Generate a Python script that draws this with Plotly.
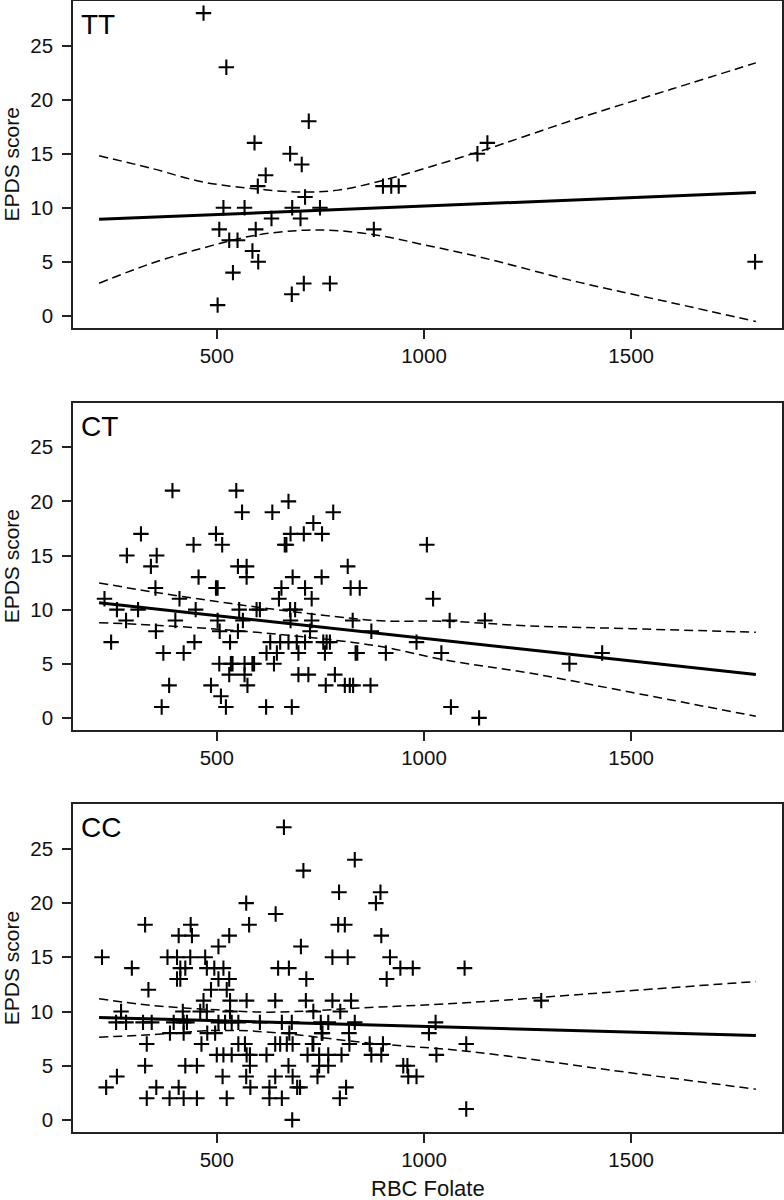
import plotly.graph_objects as go

# ---------------- data ----------------
panel_labels = ["TT", "CT", "CC"]

tt_x = [468, 523, 722, 591, 677, 705, 618, 599, 713, 516, 567, 682, 749, 632, 702,
        506, 594, 879, 530, 550, 586, 600, 539, 710, 773, 681, 502, 901, 921, 939,
        1129, 1153, 1799]
tt_y = [28, 23, 18, 16, 15, 14, 13, 12, 11, 10, 10, 10, 10, 9, 9,
        8, 8, 8, 7, 7, 6, 5, 4, 3, 3, 2, 1, 12, 12, 12,
        15, 16, 5]

ct_rows = {
    21: [393, 547],
    20: [673],
    19: [561, 634, 781],
    18: [733],
    17: [317, 498, 678, 710, 754],
    16: [444, 513, 664, 668, 1007],
    15: [283, 355],
    14: [341, 551, 572, 816],
    13: [456, 572, 683, 753],
    12: [352, 498, 502, 656, 713, 823, 845],
    11: [229, 410, 650, 729, 1022],
    10: [259, 310, 449, 554, 596, 604, 677, 689],
    9: [281, 400, 502, 563, 678, 729, 828, 1062, 1147],
    8: [353, 507, 551, 725, 873],
    7: [245, 446, 532, 629, 653, 673, 693, 713, 757, 765, 773, 982],
    6: [371, 420, 620, 645, 697, 761, 835, 839, 908, 1042, 1430],
    5: [506, 534, 538, 567, 586, 590, 638, 1351],
    4: [530, 567, 697, 721, 785],
    3: [385, 486, 574, 763, 809, 821, 829, 871],
    2: [510],
    1: [367, 522, 619, 681, 1065],
    0: [1133],
}

cc_rows = {
    27: [662],
    24: [833],
    23: [709],
    21: [795, 895],
    20: [571, 884],
    19: [642],
    18: [327, 437, 578, 793, 809],
    17: [408, 440, 530, 897],
    16: [504, 703],
    15: [223, 381, 404, 436, 472, 779, 816, 918],
    14: [295, 412, 424, 476, 494, 516, 648, 674, 943, 973, 1098],
    13: [404, 412, 504, 530, 716, 910],
    12: [335, 486, 524],
    11: [468, 532, 572, 641, 715, 779, 824, 1283],
    10: [269, 418, 460, 476, 532, 733, 798],
    9: [257, 281, 322, 343, 396, 420, 428, 504, 520, 536, 552, 604, 657, 681,
        751, 769, 833, 1028],
    8: [387, 420, 477, 496, 675, 753, 755, 819, 1012],
    7: [331, 463, 552, 568, 641, 653, 669, 683, 731, 733, 820, 869, 901, 1102],
    6: [500, 516, 536, 572, 580, 620, 719, 747, 769, 801, 873, 897, 1030],
    5: [327, 424, 452, 580, 673, 747, 769, 950, 960],
    4: [259, 514, 571, 641, 683, 743, 962, 982],
    3: [233, 354, 408, 581, 627, 694, 701, 812],
    2: [331, 386, 420, 452, 524, 627, 657, 797],
    1: [1102],
    0: [682],
}

ct_x = [x for yv, xs in ct_rows.items() for x in xs]
ct_y = [yv for yv, xs in ct_rows.items() for x in xs]
cc_x = [x for yv, xs in cc_rows.items() for x in xs]
cc_y = [yv for yv, xs in cc_rows.items() for x in xs]

# fitted line end points (read)
fit_x = [216, 1801]
tt_fit = [8.93, 11.40]
ct_fit = [10.64, 4.00]
cc_fit = [9.45, 7.78]

# confidence bands (read at several x positions)
tt_band_x = [216, 343, 464, 584, 700, 793, 898, 1002, 1134, 1375, 1600, 1801]
tt_upper = [14.8, 13.64, 12.4, 11.79, 11.45, 11.63, 12.5, 13.64, 15.2, 18.3, 21.0, 23.4]
tt_lower = [3.02, 4.87, 6.25, 7.39, 7.9, 7.88, 7.39, 6.56, 5.45, 3.1, 1.2, -0.52]

ct_band_x = [216, 343, 504, 665, 825, 906, 1050, 1255, 1500, 1801]
ct_upper = [12.47, 11.65, 10.73, 9.9, 9.2, 8.95, 8.93, 8.5, 8.24, 7.91]
ct_lower = [8.8, 8.58, 8.19, 7.66, 6.99, 6.53, 5.35, 4.14, 2.36, 0.15]

cc_band_x = [216, 339, 500, 628, 869, 1110, 1448, 1801]
cc_upper = [11.17, 10.58, 10.15, 9.94, 10.37, 10.83, 11.78, 12.77]
cc_lower = [7.63, 7.85, 8.25, 8.09, 7.08, 6.31, 4.6, 2.83]

x_ticks = [500, 1000, 1500]
y_ticks = [0, 5, 10, 15, 20, 25]

# ---------------- figure ----------------
FONT = "Liberation Sans, Arial, Helvetica, sans-serif"
W, H = 784, 1200
ML, MR, MT, MB = 73, 2, 1, 68
PH = H - MT - MB
PW = W - ML - MR

def yfrac(py):
    return (H - MB - py) / PH

domains = [
    [yfrac(328), 1.0],
    [yfrac(730), yfrac(402.7)],
    [0.0, yfrac(804.3)],
]

panels = [
    (tt_x, tt_y, tt_fit, tt_band_x, tt_upper, tt_lower),
    (ct_x, ct_y, ct_fit, ct_band_x, ct_upper, ct_lower),
    (cc_x, cc_y, cc_fit, cc_band_x, cc_upper, cc_lower),
]

fig = go.Figure()
annotations = []
for i, (px, py, fy, bx, bu, bl) in enumerate(panels):
    xa = "x" if i == 0 else f"x{i+1}"
    ya = "y" if i == 0 else f"y{i+1}"
    fig.add_trace(go.Scatter(
        x=px, y=py, mode="markers", xaxis=xa, yaxis=ya,
        marker=dict(symbol="cross-thin", size=11,
                    line=dict(color="black", width=2.1), color="black"),
        showlegend=False, hoverinfo="skip"))
    for band in (bu, bl):
        fig.add_trace(go.Scatter(
            x=bx, y=band, mode="lines", xaxis=xa, yaxis=ya,
            line=dict(color="black", width=1.5, dash="9px,5px", shape="spline",
                      smoothing=1.0),
            showlegend=False, hoverinfo="skip"))
    fig.add_trace(go.Scatter(
        x=fit_x, y=fy, mode="lines", xaxis=xa, yaxis=ya,
        line=dict(color="black", width=3),
        showlegend=False, hoverinfo="skip"))

    axis_common = dict(
        showline=True, mirror=True, linecolor="#222", linewidth=1.5,
        ticks="outside", ticklen=9, tickwidth=1.5, tickcolor="#222",
        showgrid=False, zeroline=False, automargin=False,
        tickfont=dict(family=FONT, size=20.5, color="#111"),
    )
    xkey = "xaxis" if i == 0 else f"xaxis{i+1}"
    ykey = "yaxis" if i == 0 else f"yaxis{i+1}"
    fig.update_layout(**{
        xkey: dict(axis_common, domain=[0, 1], range=[153, 1864],
                   tickvals=x_ticks, anchor=ya),
        ykey: dict(axis_common, domain=domains[i], range=[-1.12, 29.12],
                   tickvals=y_ticks, anchor=xa, ticklabelstandoff=5),
    })
    d0, d1 = domains[i]
    top_px = H - MB - d1 * PH
    # panel label
    annotations.append(dict(
        text=panel_labels[i], xref="paper", yref="paper",
        x=(79 - ML) / PW, y=yfrac(top_px + 6),
        xanchor="left", yanchor="top", showarrow=False,
        font=dict(family=FONT, size=28, color="black")))
    # y title
    annotations.append(dict(
        text="EPDS score", xref="paper", yref="paper",
        x=(11 - ML) / PW, y=(d0 + d1) / 2,
        xanchor="center", yanchor="middle", textangle=-90, showarrow=False,
        font=dict(family=FONT, size=21, color="#111")))

annotations.append(dict(
    text="RBC Folate", xref="paper", yref="paper",
    x=(428 - ML) / PW, y=yfrac(1188),
    xanchor="center", yanchor="middle", showarrow=False,
    font=dict(family=FONT, size=22, color="#111")))

fig.update_layout(
    width=W, height=H,
    margin=dict(l=ML, r=MR, t=MT, b=MB, autoexpand=False),
    paper_bgcolor="white", plot_bgcolor="white",
    annotations=annotations,
    font=dict(family=FONT),
)

fig.write_html(
    "out.html",
    config={"displayModeBar": False},
    post_script="document.body.style.margin='0px';document.body.style.overflow='hidden';",
)
